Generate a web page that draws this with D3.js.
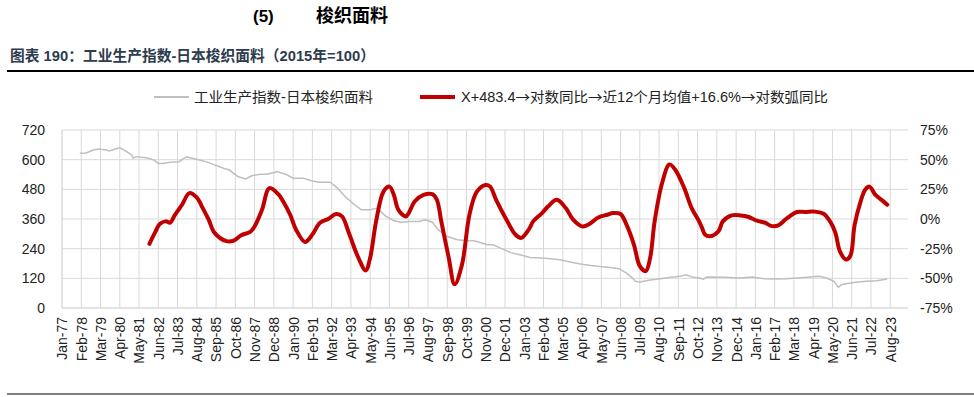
<!DOCTYPE html>
<html><head><meta charset="utf-8">
<script src="https://cdn.jsdelivr.net/npm/d3@7"></script>
<style>body{margin:0;background:#fff}svg{display:block}</style>
</head><body><svg id="c" width="974" height="397"></svg>
<script>
const xTickLabels = ["Jan-77","Feb-78","Mar-79","Apr-80","May-81","Jun-82","Jul-83","Aug-84","Sep-85","Oct-86","Nov-87","Dec-88","Jan-90","Feb-91","Mar-92","Apr-93","May-94","Jun-95","Jul-96","Aug-97","Sep-98","Oct-99","Nov-00","Dec-01","Jan-03","Feb-04","Mar-05","Apr-06","May-07","Jun-08","Jul-09","Aug-10","Sep-11","Oct-12","Nov-13","Dec-14","Jan-16","Feb-17","Mar-18","Apr-19","May-20","Jun-21","Jul-22","Aug-23"];
const leftTicks = [0,120,240,360,480,600,720];
const rightTicks = [-75,-50,-25,0,25,50,75];

const grayName = "工业生产指数-日本梭织面料";
const grayDates = ["1978-01","1978-05","1978-10","1979-02","1979-07","1979-09","1980-01","1980-04","1980-08","1980-12","1981-01","1981-03","1981-10","1982-03","1982-06","1982-09","1983-02","1983-08","1984-01","1984-05","1984-10","1985-03","1985-08","1986-02","1986-06","1986-12","1987-05","1987-09","1988-03","1988-07","1989-01","1989-02","1989-08","1990-01","1990-08","1991-02","1991-07","1992-02","1992-07","1992-12","1993-06","1993-11","1994-05","1994-10","1995-03","1995-09","1996-02","1996-08","1997-02","1997-06","1997-11","1998-03","1998-09","1999-04","1999-10","2000-03","2000-07","2000-12","2001-04","2001-09","2002-04","2002-10","2003-05","2003-12","2004-07","2005-01","2005-08","2006-03","2006-10","2007-04","2007-11","2008-05","2008-10","2009-02","2009-04","2009-07","2010-02","2010-09","2011-04","2011-10","2012-02","2012-07","2012-11","2013-02","2013-04","2014-04","2015-03","2015-11","2016-07","2017-02","2017-10","2018-05","2018-12","2019-08","2020-01","2020-06","2020-09","2020-11","2021-03","2021-10","2022-04","2022-11","2023-06"];
const grayValues = [626,626,639,643,639,635,643,648,635,619,606,612,608,599,585,585,590,592,612,606,599,590,579,565,558,531,522,535,541,541,549,552,541,525,525,514,509,509,485,451,420,397,397,404,374,353,347,350,350,357,347,316,289,276,272,272,265,256,256,242,224,215,204,202,199,195,186,178,172,168,164,159,141,121,108,105,113,118,124,128,134,124,121,117,125,124,121,125,118,117,118,121,124,128,121,108,83,94,99,105,108,110,117];

const redName = "X+483.4→对数同比→近12个月均值+16.6%→对数弧同比";
const redDates = ["1981-12","1982-04","1982-07","1982-11","1983-02","1983-05","1983-10","1984-03","1984-08","1984-12","1985-04","1985-08","1986-04","1986-09","1987-02","1987-08","1987-11","1988-04","1988-09","1989-03","1989-06","1989-11","1990-03","1990-09","1991-02","1991-07","1992-01","1992-06","1992-10","1993-03","1993-09","1994-02","1994-05","1994-09","1995-02","1995-06","1995-09","1995-12","1996-05","1996-07","1996-11","1997-05","1997-11","1998-02","1998-05","1998-10","1999-02","1999-07","1999-12","2000-05","2000-11","2001-02","2001-06","2002-01","2002-07","2002-11","2003-04","2003-07","2004-01","2004-05","2004-11","2005-05","2005-10","2006-04","2006-09","2007-03","2007-09","2008-01","2008-06","2008-10","2009-03","2009-07","2009-11","2010-02","2010-05","2010-10","2011-03","2011-07","2012-01","2012-06","2012-11","2013-01","2013-03","2013-06","2013-12","2014-03","2014-09","2015-03","2015-08","2016-02","2016-08","2016-11","2017-04","2017-10","2018-05","2018-11","2019-04","2019-11","2020-04","2020-07","2020-10","2021-02","2021-05","2021-08","2021-12","2022-03","2022-06","2022-10","2023-03","2023-06"];
const redValues = [-20.9,-10.9,-4.2,-2,-3.1,3,12,21.8,18,9.2,-0.6,-11.7,-18.7,-18.2,-13.7,-10.9,-6.2,7.8,26,20.9,15.3,3.6,-9,-19.3,-13.1,-3.3,0.3,4.2,2.2,-13.1,-32.6,-43.3,-32.6,-2,23.1,27.3,20.3,7.8,2.2,5,14.7,20.3,20.9,16.2,-2,-32.6,-55,-38.3,3.6,23.1,28.7,27.3,16.2,-0.6,-13.1,-15.9,-9,-2,5,10.5,16.2,9.2,-0.6,-6.2,-4.2,1.3,3.6,5,4.2,-4.8,-21.5,-39.7,-43.9,-32.6,-2,30.1,46,41.3,26,9.2,-2,-7.5,-13.1,-14.6,-10.4,-2,3,3,1.9,-1.4,-3.3,-5.6,-5.6,0.3,5.9,5.9,6.4,4.4,-3.3,-11.7,-27.1,-34.1,-31.3,-4.8,14.7,24.5,27.3,20.3,15.3,12];

const MON = {Jan:0,Feb:1,Mar:2,Apr:3,May:4,Jun:5,Jul:6,Aug:7,Sep:8,Oct:9,Nov:10,Dec:11};
const idxFromISO = s => (+s.slice(0,4) - 1977) * 12 + (+s.slice(5,7) - 1);
const idxFromLabel = s => { const [m, y] = s.split("-"); const yy = +y < 50 ? 2000 + +y : 1900 + +y; return (yy - 1977) * 12 + MON[m]; };

const svg = d3.select("#c");
const FONT = "'Liberation Sans', 'Noto Sans CJK SC', sans-serif";
const CJK = "'Noto Sans CJK SC', sans-serif";
const L = 62, R = 908, T = 130, B = 308;

const x = d3.scaleLinear().domain([0, 571]).range([L, R]);
const yL = d3.scaleLinear().domain([0, 720]).range([B, T]);
const yR = d3.scaleLinear().domain([-75, 75]).range([B, T]);

// titles
svg.append("text").attr("x", 253).attr("y", 22).attr("font-family", FONT).attr("font-weight", "bold").attr("font-size", 17).attr("fill", "#000").text("(5)");
svg.append("text").attr("x", 316).attr("y", 22).attr("font-family", FONT).attr("font-weight", "bold").attr("font-size", 18).attr("fill", "#000").text("梭织面料");
svg.append("text").attr("x", 10).attr("y", 61).attr("font-family", FONT).attr("font-weight", "bold").attr("font-size", 15).attr("fill", "#2d3b4e")
  .attr("textLength", 365).attr("lengthAdjust", "spacingAndGlyphs").text("图表 190：工业生产指数-日本梭织面料（2015年=100）");
svg.append("line").attr("x1", 7).attr("x2", 974).attr("y1", 71).attr("y2", 71).attr("stroke", "#000").attr("stroke-width", 2);
svg.append("line").attr("x1", 7).attr("x2", 974).attr("y1", 394).attr("y2", 394).attr("stroke", "#000").attr("stroke-width", 1);

// grid
const g = svg.append("g");
g.selectAll("line.h").data(leftTicks).join("line")
  .attr("x1", L).attr("x2", R).attr("y1", d => yL(d)).attr("y2", d => yL(d))
  .attr("stroke", "#d9d9d9").attr("stroke-width", 1);
g.selectAll("line.v").data(xTickLabels).join("line")
  .attr("x1", d => x(idxFromLabel(d))).attr("x2", d => x(idxFromLabel(d)))
  .attr("y1", T).attr("y2", B).attr("stroke", "#d9d9d9").attr("stroke-width", 1);

// axes
const axL = d3.axisLeft(yL).tickValues(leftTicks).tickSize(0).tickPadding(17);
const gl = svg.append("g").attr("transform", `translate(${L},0)`).call(axL);
gl.select(".domain").remove();
gl.selectAll("text").attr("font-family", FONT).attr("font-size", 14).attr("fill", "#222");

const axR = d3.axisRight(yR).tickValues(rightTicks).tickSize(0).tickPadding(12).tickFormat(d => d + "%");
const gr = svg.append("g").attr("transform", `translate(${R},0)`).call(axR);
gr.select(".domain").remove();
gr.selectAll("text").attr("font-family", FONT).attr("font-size", 14).attr("fill", "#222");

const axB = d3.axisBottom(x).tickValues(xTickLabels.map(idxFromLabel)).tickSize(0).tickFormat((d, i) => xTickLabels[i]);
const gb = svg.append("g").attr("transform", `translate(0,${B})`).call(axB);
gb.select(".domain").remove();
gb.selectAll("text").attr("font-family", FONT).attr("font-size", 14).attr("fill", "#222")
  .attr("transform", "rotate(-90)").attr("text-anchor", "end").attr("x", -9).attr("y", 0).attr("dy", "0.35em");

svg.append("line").attr("x1", L).attr("x2", L).attr("y1", T).attr("y2", B).attr("stroke", "#d9d9d9");
svg.append("line").attr("x1", L).attr("x2", R).attr("y1", B).attr("y2", B).attr("stroke", "#d9d9d9");

// series
const grayData = grayDates.map((d, i) => [idxFromISO(d), grayValues[i]]);
const redData = redDates.map((d, i) => [idxFromISO(d), redValues[i]]);
svg.append("path").datum(grayData)
  .attr("d", d3.line().x(d => x(d[0])).y(d => yL(d[1])))
  .attr("fill", "none").attr("stroke", "#bfbfbf").attr("stroke-width", 1.5);
svg.append("path").datum(redData)
  .attr("d", d3.line().curve(d3.curveCatmullRom.alpha(0.5)).x(d => x(d[0])).y(d => yR(d[1])))
  .attr("fill", "none").attr("stroke", "#c00000").attr("stroke-width", 4).attr("stroke-linejoin", "round").attr("stroke-linecap", "round");

// legend
const ly = 97;
svg.append("line").attr("x1", 154).attr("x2", 189).attr("y1", ly).attr("y2", ly).attr("stroke", "#bfbfbf").attr("stroke-width", 2);
svg.append("text").attr("x", 194).attr("y", ly).attr("dy", "0.35em").attr("font-family", FONT).attr("font-size", 14).attr("fill", "#222")
  .attr("textLength", 179).attr("lengthAdjust", "spacingAndGlyphs").text(grayName);
svg.append("line").attr("x1", 420).attr("x2", 455).attr("y1", ly).attr("y2", ly).attr("stroke", "#c00000").attr("stroke-width", 4);
const rt = svg.append("text").attr("x", 461).attr("y", ly).attr("dy", "0.35em").attr("font-family", FONT).attr("font-size", 14).attr("fill", "#222")
  .attr("textLength", 367).attr("lengthAdjust", "spacingAndGlyphs");
redName.split(/(→)/).forEach(part => {
  const t = rt.append("tspan").text(part);
  if (part === "→") t.attr("font-family", CJK);
});
</script></body></html>
